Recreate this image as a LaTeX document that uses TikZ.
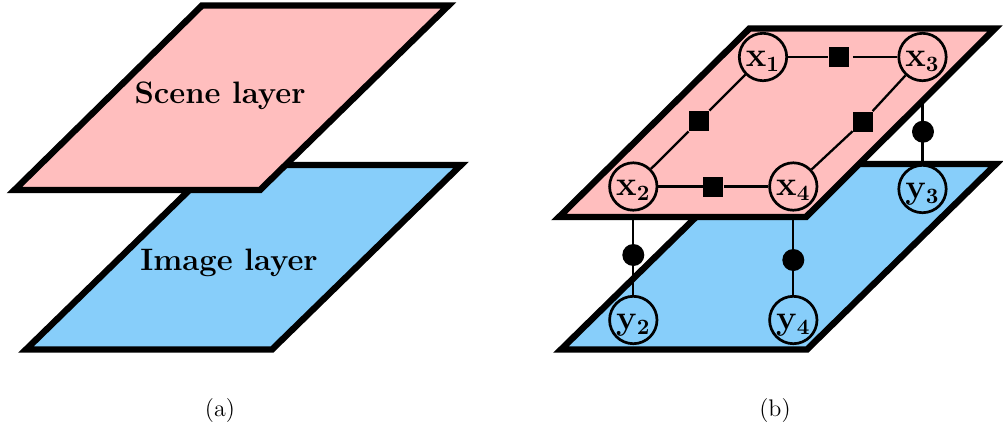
\documentclass[tikz,border=0pt]{standalone}
\definecolor{scenepink}{RGB}{255,190,190}
\definecolor{imageblue}{RGB}{135,206,250}
\pgfdeclarelayer{bluelayer}
\pgfdeclarelayer{linklayer}
\pgfdeclarelayer{pinklayer}
\pgfsetlayers{bluelayer,linklayer,pinklayer,main}
\begin{document}
\begin{tikzpicture}[x=0.5pt,y=-0.5pt,
  plane/.style={line width=3.2pt, line join=miter},
  var/.style={circle, draw, line width=1.35pt, minimum size=23.7pt, inner sep=0pt,
              text height=11.5pt, text depth=2.3pt,
              font=\fontsize{16}{19}\selectfont},
  factor/.style={rectangle, fill=black, minimum size=10pt, inner sep=0pt},
  obs/.style={circle, fill=black, minimum size=11pt, inner sep=0pt},
  link/.style={line width=1.15pt},
  layertext/.style={font=\fontsize{15.5}{18}\selectfont\bfseries, anchor=base},
  caption/.style={font=\fontsize{12}{14}\selectfont}]
\useasboundingbox (0,0) rectangle (1003,436);

% ---- (a): the two layers ----
\draw[plane, fill=imageblue] (26,349.5) -- (272,349.5) -- (461,165) -- (215,165) -- cycle;
\draw[plane, fill=scenepink] (14.5,190) -- (260,190) -- (448.5,5.5) -- (202,5.5) -- cycle;
\node[layertext] (scene) at (220,103.5) {Scene layer};
\node[layertext] (image) at (229,270.5) {Image layer};
\node[caption] (capa) at (220,411) {(a)};

% ---- (b): the factor graph on the layers ----
\begin{pgfonlayer}{bluelayer}
  \draw[plane, fill=imageblue] (561,349.5) -- (807,349.5) -- (996,164) -- (750,164) -- cycle;
\end{pgfonlayer}
\begin{pgfonlayer}{pinklayer}
  \draw[plane, fill=scenepink] (559,217) -- (806,217) -- (995,28.5) -- (749.5,28.5) -- cycle;
\end{pgfonlayer}

% hidden variables on the scene layer
\node[var, fill=scenepink] (x1) at (763,57) {$\mathbf{x_1}$};
\node[var, fill=scenepink] (x3) at (922.5,57) {$\mathbf{x_3}$};
\node[var, fill=scenepink] (x2) at (633.3,186.5) {$\mathbf{x_2}$};
\node[var, fill=scenepink] (x4) at (793.3,186.5) {$\mathbf{x_4}$};

% observed variables on the image layer
\node[var, fill=imageblue] (y2) at (633.3,320) {$\mathbf{y_2}$};
\node[var, fill=imageblue] (y4) at (793.3,320) {$\mathbf{y_4}$};
\node[var, fill=imageblue] (y3) at (922.5,189) {$\mathbf{y_3}$};

% pairwise factors
\node[factor] (f13) at (838.5,57) {};
\node[factor] (f12) at (699,121) {};
\node[factor] (f24) at (713.3,186.5) {};
\node[factor] (f34) at (863,121.5) {};

\draw[link] (x1) -- (f13);
\draw[link, shorten <=2pt] (f13) -- (x3);
\draw[link] (x1) -- (f12) -- (x2);
\draw[link] (x2) -- (f24) -- (x4);
\draw[link] (x3) -- (f34) -- (x4);

% unary factors between the layers
\begin{pgfonlayer}{linklayer}
  \draw[link] (x2) -- (y2);
  \draw[link] (x4) -- (y4);
  \draw[link] (x3) -- (y3);
\end{pgfonlayer}
\node[obs] (d2) at (633.3,255) {};
\node[obs] (d4) at (793.3,260) {};
\node[obs] (d3) at (923,131.7) {};

\node[caption] (capb) at (775,411) {(b)};
\end{tikzpicture}
\end{document}
